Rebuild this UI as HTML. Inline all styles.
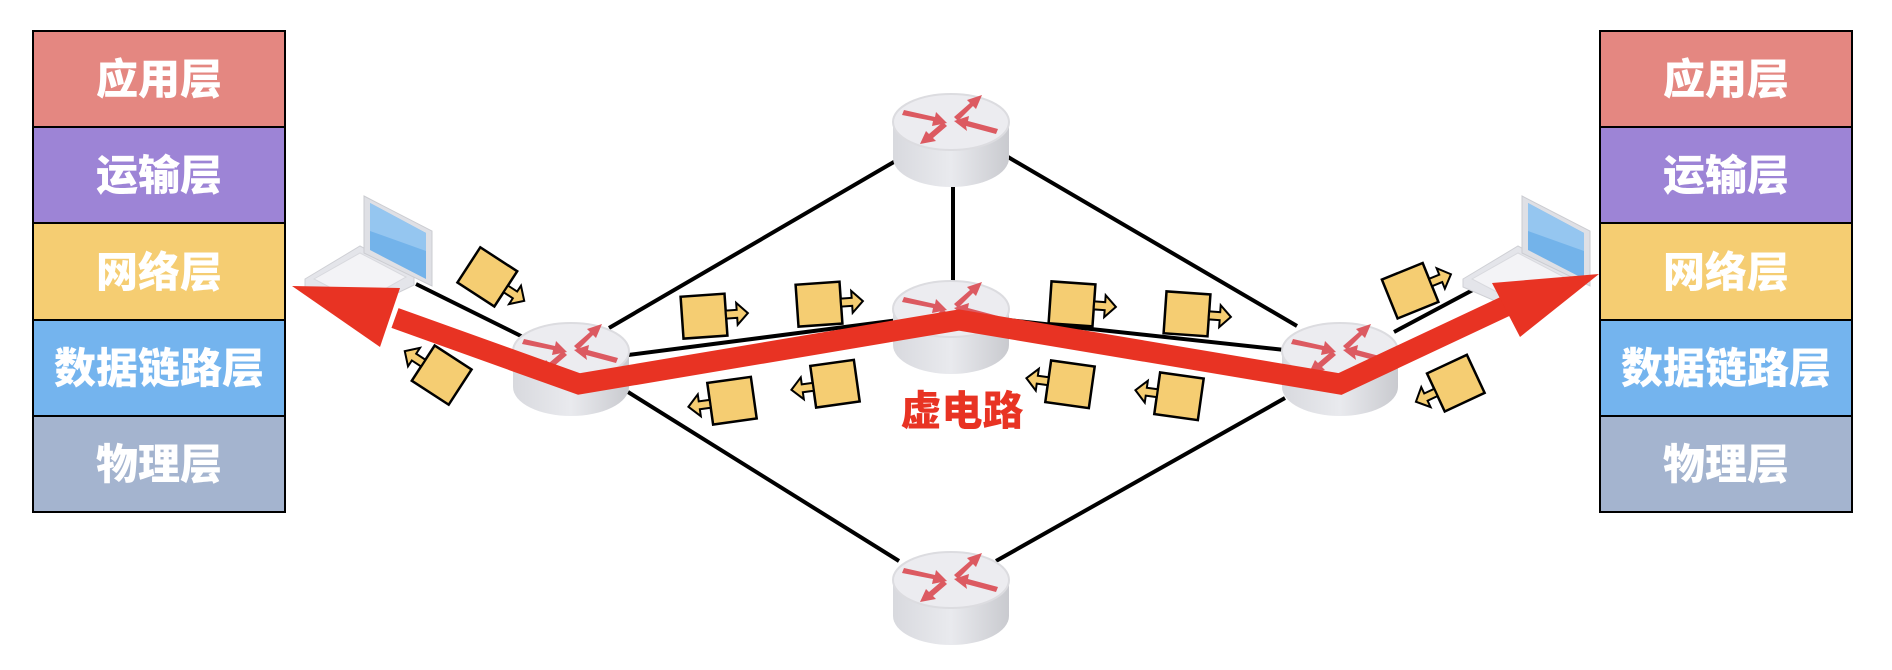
<!DOCTYPE html>
<html><head><meta charset="utf-8"><style>
html,body{margin:0;padding:0;background:#fff;width:1892px;height:670px;overflow:hidden}
</style></head><body>
<svg width="1892" height="670" viewBox="0 0 1892 670" xmlns="http://www.w3.org/2000/svg">
<defs>
<linearGradient id="body" x1="0" x2="1" y1="0" y2="0">
<stop offset="0" stop-color="#d8d9de"/><stop offset="0.5" stop-color="#e9eaee"/><stop offset="1" stop-color="#c9cacf"/></linearGradient>
<g id="router">
<path d="M-58,0 L-58,36 A58,29 0 0 0 58,36 L58,0 Z" fill="url(#body)"/>
<ellipse cx="0" cy="0" rx="58" ry="28" fill="#ececf0" stroke="#dcdce0" stroke-width="2"/>
<g fill="#dc5a61">
<polygon points="-47,-12 -16,-5 -15,-10 -4,1 -19,4 -18,-1 -49,-7"/>
<polygon points="3,-5 19,-19 16,-22 31,-27 25,-13 22,-16 7,-1"/>
<polygon points="45,12 15,4 16,9 3,-1 18,-6 17,-1 47,7"/>
<polygon points="-4,4 -18,16 -15,19 -31,22 -25,9 -22,12 -8,0"/>
</g>
</g>
<g id="pkt">
<rect x="-24" y="-21" width="44" height="42" fill="#f5cd72" stroke="#000" stroke-width="2.5"/>
<polygon points="20,-4 31,-4 31,-11 42,0 31,11 31,4 20,4" fill="#f5cd72" stroke="#000" stroke-width="2" stroke-linejoin="miter"/>
</g>
<g id="laptop">
<polygon points="-57,38 -2,5 52,34 52,44 -2,70 -57,46" fill="#e4e5ea" stroke="#cfd0d5"/>
<polygon points="-48,38 -2,12 44,36 -2,62" fill="#f3f3f6" stroke="#d8d9de"/>
<polygon points="2,-45 70,-10 70,45 2,12" fill="#dfe0e5" stroke="#cbccd1"/>
<polygon points="8,-38 64,-8 64,38 8,9" fill="#73b3ea"/>
<polygon points="8,-38 64,-8 64,10 8,-10" fill="#95c6f0"/>
</g>
</defs>

<g font-family="Liberation Sans, Noto Sans CJK SC, sans-serif" font-weight="900" font-size="42" fill="#fff" text-anchor="middle">
<rect x="33" y="31" width="252" height="96" fill="#e48781" stroke="#000" stroke-width="2"/>
<rect x="33" y="127" width="252" height="96" fill="#9d84d6" stroke="#000" stroke-width="2"/>
<rect x="33" y="223" width="252" height="97" fill="#f5cd72" stroke="#000" stroke-width="2"/>
<rect x="33" y="320" width="252" height="96" fill="#74b4ee" stroke="#000" stroke-width="2"/>
<rect x="33" y="416" width="252" height="96" fill="#a4b4cf" stroke="#000" stroke-width="2"/>
<text x="159" y="94">应用层</text>
<text x="159" y="190">运输层</text>
<text x="159" y="287">网络层</text>
<text x="159" y="383">数据链路层</text>
<text x="159" y="479">物理层</text>

<rect x="1600" y="31" width="252" height="96" fill="#e48781" stroke="#000" stroke-width="2"/>
<rect x="1600" y="127" width="252" height="96" fill="#9d84d6" stroke="#000" stroke-width="2"/>
<rect x="1600" y="223" width="252" height="97" fill="#f5cd72" stroke="#000" stroke-width="2"/>
<rect x="1600" y="320" width="252" height="96" fill="#74b4ee" stroke="#000" stroke-width="2"/>
<rect x="1600" y="416" width="252" height="96" fill="#a4b4cf" stroke="#000" stroke-width="2"/>
<text x="1726" y="94">应用层</text>
<text x="1726" y="190">运输层</text>
<text x="1726" y="287">网络层</text>
<text x="1726" y="383">数据链路层</text>
<text x="1726" y="479">物理层</text>
</g>

<g stroke="#000" stroke-width="4">
<line x1="609" y1="328" x2="899" y2="159"/>
<line x1="628" y1="392" x2="899" y2="561"/>
<line x1="953" y1="187" x2="953" y2="284"/>
<line x1="1008" y1="157" x2="1297" y2="326"/>
<line x1="996" y1="561" x2="1285" y2="398"/>
<line x1="628" y1="355" x2="899" y2="320"/>
<line x1="1008" y1="320" x2="1285" y2="350"/>
<line x1="416" y1="284" x2="525" y2="338"/>
<line x1="1394" y1="332" x2="1484" y2="284"/>
</g>

<use href="#laptop" x="362" y="241"/>
<use href="#laptop" x="1520" y="241"/>

<use href="#router" x="951" y="122"/>
<use href="#router" x="951" y="309"/>
<use href="#router" x="951" y="580"/>
<use href="#router" x="571" y="351"/>
<use href="#router" x="1340" y="351"/>

<use href="#pkt" transform="translate(489,278) rotate(33)"/>
<use href="#pkt" transform="translate(440,374) rotate(33) scale(-1,1)"/>
<use href="#pkt" transform="translate(706,316) rotate(-4)"/>
<use href="#pkt" transform="translate(821,304) rotate(-4)"/>
<use href="#pkt" transform="translate(730,401) rotate(-8) scale(-1,1)"/>
<use href="#pkt" transform="translate(833,384) rotate(-8) scale(-1,1)"/>
<use href="#pkt" transform="translate(1074,304) rotate(4)"/>
<use href="#pkt" transform="translate(1189,314) rotate(4)"/>
<use href="#pkt" transform="translate(1068,384) rotate(8) scale(-1,1)"/>
<use href="#pkt" transform="translate(1177,396) rotate(8) scale(-1,1)"/>
<use href="#pkt" transform="translate(1412,290) rotate(-22)"/>
<use href="#pkt" transform="translate(1454,384) rotate(-25) scale(-1,1)"/>

<polyline points="395,318 579,384 959,320 1340,384 1540,290" fill="none" stroke="#e83323" stroke-width="21" stroke-linejoin="miter"/>
<polygon points="292,286 400,288 380,347" fill="#e83323"/>
<polygon points="1599,274 1492,283 1520,337" fill="#e83323"/>

<text x="962" y="425" font-family="Liberation Sans, Noto Sans CJK SC, sans-serif" font-weight="900" font-size="41" fill="#e83323" text-anchor="middle">虚电路</text>
</svg>
</body></html>
